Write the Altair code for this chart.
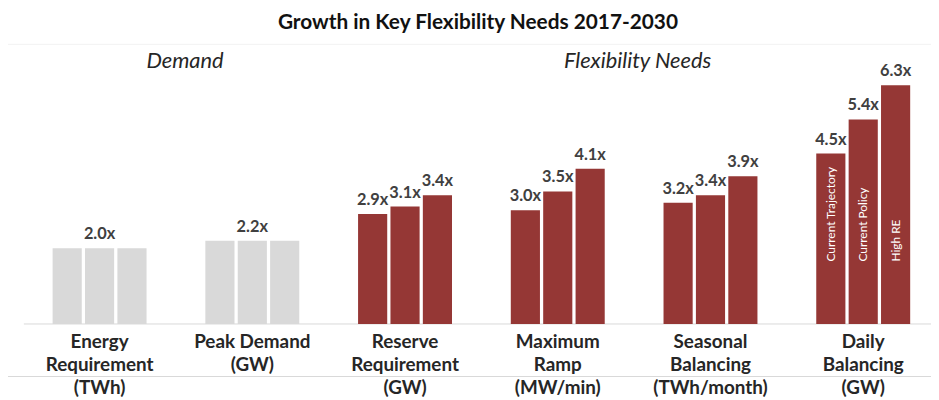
import altair as alt
import pandas as pd

# ---- data ----
groups = [
    "Energy|Requirement|(TWh)",
    "Peak Demand|(GW)",
    "Reserve|Requirement|(GW)",
    "Maximum|Ramp|(MW/min)",
    "Seasonal|Balancing|(TWh/month)",
    "Daily|Balancing|(GW)",
]
group_kind = ["Demand", "Demand", "Flexibility", "Flexibility", "Flexibility", "Flexibility"]
scenarios = ["Current Trajectory", "Current Policy", "High RE"]
current_trajectory = [2.0, 2.2, 2.9, 3.0, 3.2, 4.5]
current_policy = [2.0, 2.2, 3.1, 3.5, 3.4, 5.4]
high_re = [2.0, 2.2, 3.4, 4.1, 3.9, 6.3]
series = [current_trajectory, current_policy, high_re]

rows = []
for gi, g in enumerate(groups):
    for si, s in enumerate(scenarios):
        v = series[si][gi]
        if group_kind[gi] == "Demand":
            lab = f"{v:.1f}x" if si == 1 else ""
        else:
            lab = f"{v:.1f}x"
        rows.append({"group": g, "scenario": s, "value": v, "kind": group_kind[gi], "label": lab})
df = pd.DataFrame(rows)

PLOT_W = 865
PLOT_H = 240.7
FONT = "Lato"

xenc = alt.X(
    "group:N",
    sort=groups,
    title=None,
    scale=alt.Scale(paddingInner=0.385, paddingOuter=0, round=False),
    axis=alt.Axis(
        labelExpr="split(datum.label, '|')",
        labelAngle=0,
        labelLimit=0,
        labelFont=FONT,
        labelFontSize=19,
        labelFontWeight="bold",
        labelColor="#262626",
        labelLineHeight=23,
        labelPadding=9,
        labelBaseline="top",
        ticks=False,
        domain=False,
        grid=False,
    ),
)
xoff = alt.XOffset("scenario:N", sort=scenarios,
                   scale=alt.Scale(paddingInner=0.1, paddingOuter=0, round=False))
yenc = alt.Y("value:Q", scale=alt.Scale(domain=[0, 6.3], nice=False, zero=True), axis=None)

base = alt.Chart(df).encode(x=xenc, xOffset=xoff)

bars = base.mark_bar().encode(
    y=yenc,
    color=alt.Color(
        "kind:N",
        scale=alt.Scale(domain=["Demand", "Flexibility"], range=["#d9d9d9", "#953735"]),
        legend=None,
    ),
)

labels = base.mark_text(
    dy=-14, baseline="middle", font=FONT, fontSize=16.5, fontWeight="bold", color="#404040"
).encode(y=yenc, text="label:N")

inner = base.transform_filter(alt.datum.group == groups[5]).mark_text(
    angle=270, align="left", baseline="middle", dx=63, font=FONT, fontSize=12, color="white"
).encode(y=alt.datum(0), text="scenario:N")

one = pd.DataFrame({"k": [0]})

def rule(x1, x2, y, color):
    return alt.Chart(one).mark_rule(color=color, strokeWidth=1).encode(
        x=alt.value(x1), x2=alt.value(x2), y=alt.value(y)
    )

def note(text, x, y, size, weight="normal", style="normal", color="#1a1a1a"):
    return alt.Chart(one).mark_text(
        text=text, font=FONT, fontSize=size, fontWeight=weight, fontStyle=style,
        color=color, align="center", baseline="middle",
    ).encode(x=alt.value(x), y=alt.value(y))

title_line = rule(-48, 886, -41.3, "#f2f2f2")
base_line = rule(-29, 886, PLOT_H, "#d9d9d9")
bottom_line = rule(-53, 886, PLOT_H + 53, "#d9d9d9")

title = note("Growth in Key Flexibility Needs 2017-2030", 429, -62.5, 21, weight="bold", color="#111111")
demand = note("Demand", 133.5, -24.5, 22, style="italic", color="#262626")
flex = note("Flexibility Needs", 590, -24.5, 22, style="italic", color="#262626")

chart = alt.layer(
    title_line, base_line, bottom_line, bars, labels, inner, title, demand, flex
).properties(
    width=PLOT_W,
    height=PLOT_H,
    autosize=alt.AutoSizeParams(type="none"),
    padding={"left": 45, "top": 76.3, "right": 21, "bottom": 75},
).configure_view(stroke=None)

chart.save("out.html", embed_options={"renderer": "svg", "actions": False})
